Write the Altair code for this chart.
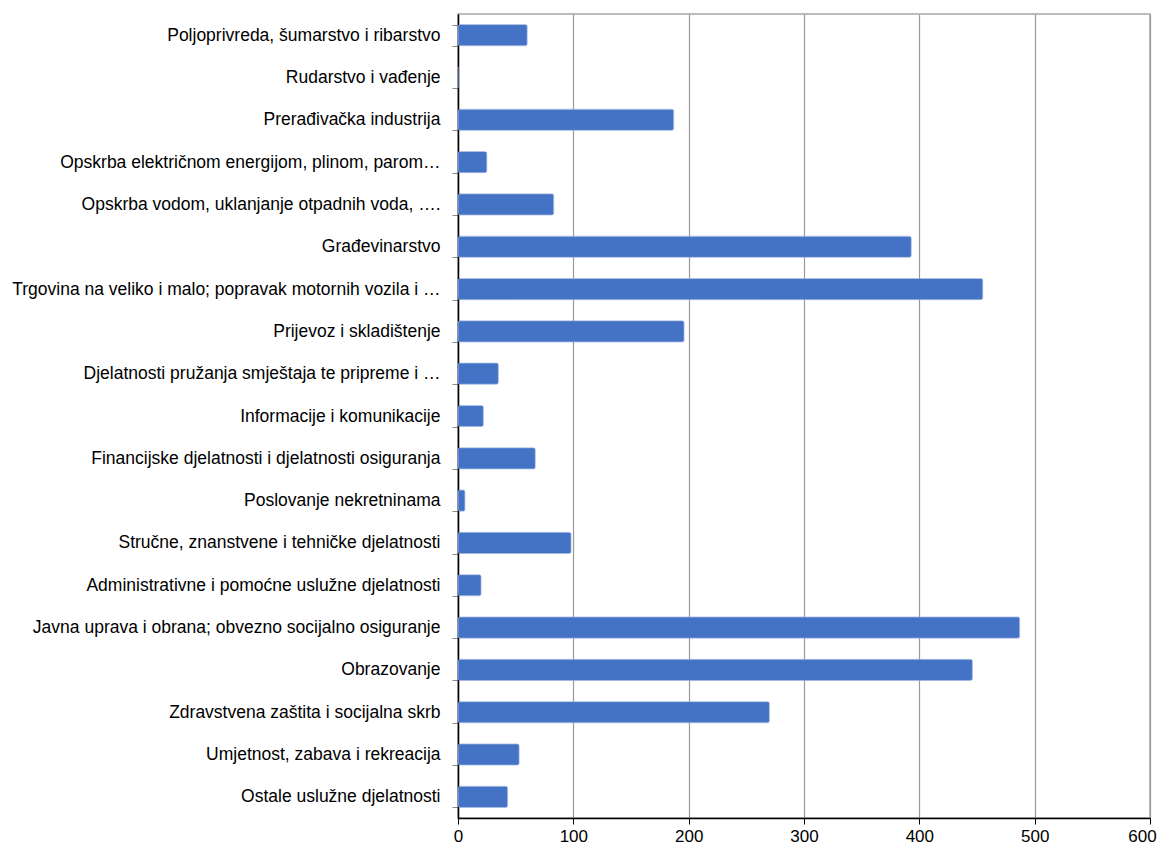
import altair as alt
import pandas as pd

categories = [
    "Poljoprivreda, šumarstvo i ribarstvo",
    "Rudarstvo i vađenje",
    "Prerađivačka industrija",
    "Opskrba električnom energijom, plinom, parom…",
    "Opskrba vodom, uklanjanje otpadnih voda, ….",
    "Građevinarstvo",
    "Trgovina na veliko i malo; popravak motornih vozila i …",
    "Prijevoz i skladištenje",
    "Djelatnosti pružanja smještaja te pripreme i …",
    "Informacije i komunikacije",
    "Financijske djelatnosti i djelatnosti osiguranja",
    "Poslovanje nekretninama",
    "Stručne, znanstvene i tehničke djelatnosti",
    "Administrativne i pomoćne uslužne djelatnosti",
    "Javna uprava i obrana; obvezno socijalno osiguranje",
    "Obrazovanje",
    "Zdravstvena zaštita i socijalna skrb",
    "Umjetnost, zabava i rekreacija",
    "Ostale uslužne djelatnosti",
]
values = [60, 0, 187, 25, 83, 393, 455, 196, 35, 22, 67, 6, 98, 20, 487, 446, 270, 53, 43]
x_ticks = [0, 100, 200, 300, 400, 500, 600]

df = pd.DataFrame({"cat": categories, "val": values})

FONT = "Liberation Sans"

chart = alt.Chart(df).mark_bar(
    color="#4472C4", cornerRadius=2, stroke="#8FAADC", strokeWidth=0.6
).encode(
    x=alt.X("val:Q", scale=alt.Scale(domain=[0, 600], nice=False),
            axis=alt.Axis(values=x_ticks, title=None, grid=True, gridColor="#9A9A9A",
                          gridWidth=1.2, domainColor="#000000", domainWidth=1.5,
                          tickColor="#000000", tickSize=6, labelFontSize=17,
                          labelFont=FONT, labelColor="#000000", labelPadding=4,
                          labelFlush=False,
                          labelOffset={"condition": {"test": "datum.value === 600", "value": -8},
                                       "value": 0})),
    y=alt.Y("cat:N", sort=None,
            scale=alt.Scale(paddingInner=0.5, paddingOuter=0.25),
            axis=alt.Axis(title=None, tickBand="extent", tickColor="#888888",
                          tickSize=6, domainColor="#000000", domainWidth=1.5,
                          labelFontSize=17.5, labelFont=FONT, labelColor="#000000",
                          labelPadding=12, labelLimit=460, grid=False)),
).properties(
    width=692, height=804,
    autosize=alt.AutoSizeParams(type="none"),
    padding={"left": 450, "top": 6, "right": 7, "bottom": 26},
).configure_view(stroke="#A6A6A6", strokeWidth=1.5)

chart.save("out.html", embed_options={"renderer": "svg", "actions": False})
